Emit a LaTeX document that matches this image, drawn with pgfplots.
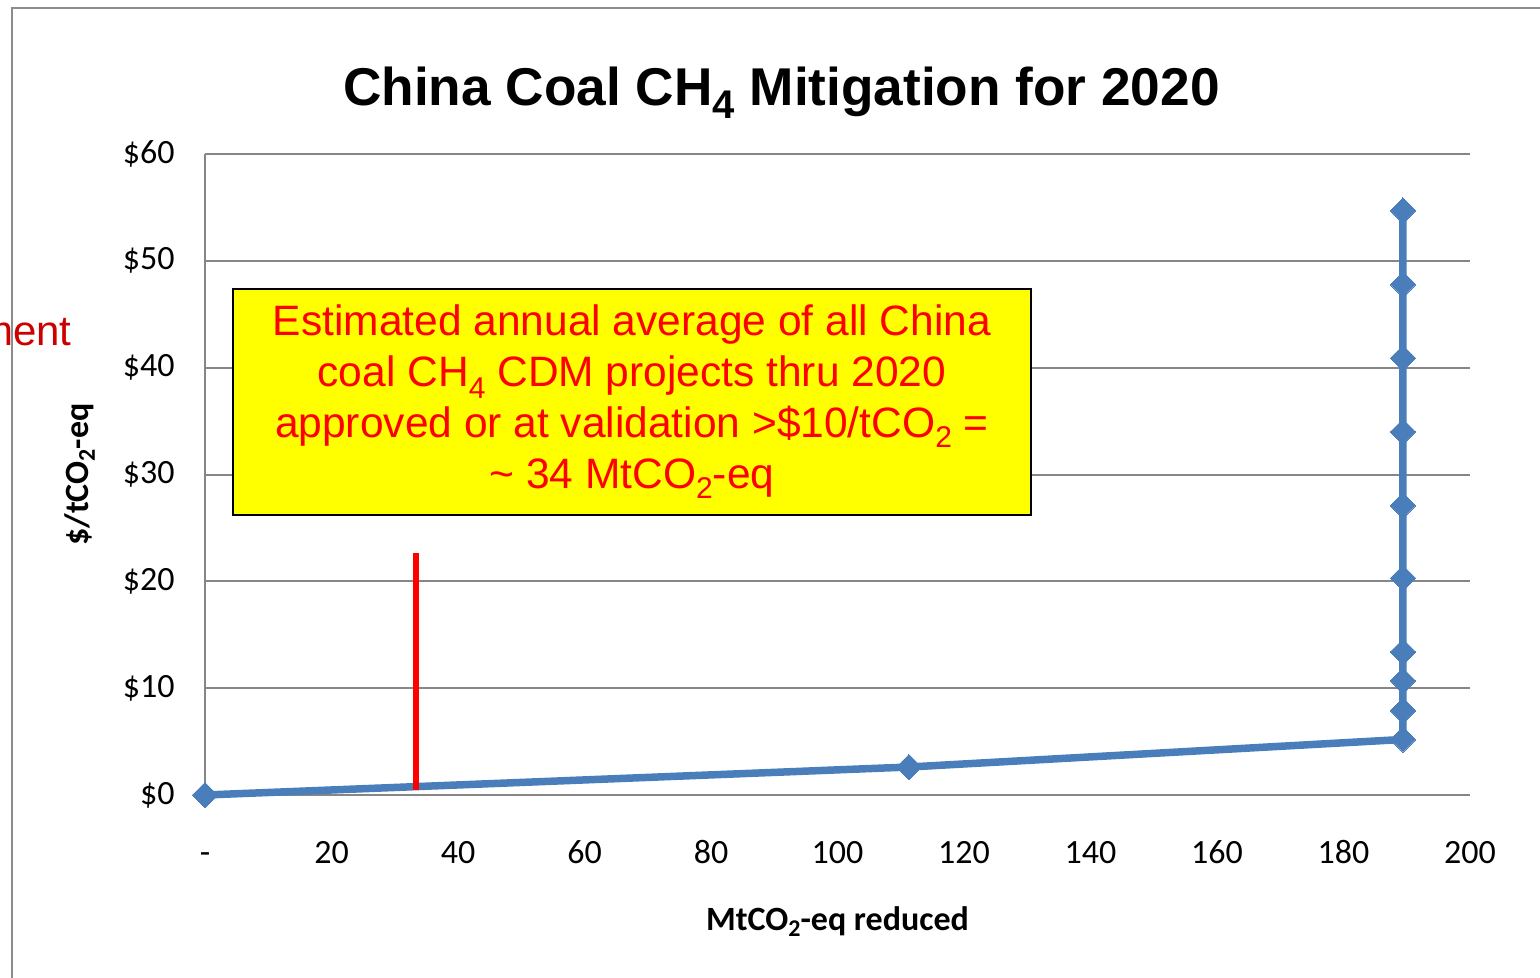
\documentclass[border=0pt]{standalone}
\usepackage{pgfplots}
\pgfplotsset{compat=1.18}
\usepackage{fontspec}
\setmainfont{Carlito}
\newfontfamily\arial{Liberation Sans}
\definecolor{seriesblue}{RGB}{74,126,187}
\definecolor{gridgray}{RGB}{134,134,134}
\definecolor{framegray}{RGB}{140,140,140}
\definecolor{notered}{RGB}{255,0,0}
\definecolor{marginred}{RGB}{204,0,0}
\definecolor{noteyellow}{RGB}{255,255,0}
% subscript: #1 size, #2 drop below the baseline, #3 text
\newcommand{\sub}[3]{\raisebox{-#2}{\fontsize{#1}{#1}\selectfont#3}}

\begin{document}
\begin{tikzpicture}
\useasboundingbox (0,0) rectangle (770bp,-489bp);
% slide frame
\draw[framegray, line width=0.8bp] (6bp,-560bp) -- (6bp,-4bp) -- (820bp,-4bp);
% text running in from the left of the slide
\node[anchor=base east, inner sep=0pt, text=marginred,
      font=\arial\fontsize{21bp}{25bp}\selectfont] at (36bp,-172.5bp) {ment};
\begin{axis}[
  at={(102.5bp,-397.5bp)}, anchor=south west,
  width=632.5bp, height=320.5bp, scale only axis,
  xmin=0, xmax=200, ymin=0, ymax=60,
  clip=false,
  axis x line*=bottom, axis y line*=left,
  axis line style={gridgray, line width=1bp, -},
  major tick length=0pt,
  ymajorgrids,
  major grid style={gridgray, line width=1bp},
  xtick={0,20,...,200},
  xticklabels={-,20,40,60,80,100,120,140,160,180,200},
  ytick={0,10,...,60},
  /pgf/number format/assume math mode=true,
  yticklabel={\$\pgfmathprintnumber{\tick}},
  ticklabel style={font=\fontsize{17bp}{20bp}\selectfont, inner sep=0pt},
  xticklabel style={anchor=base, yshift=-34bp},
  yticklabel style={anchor=east, xshift=-15bp},
  title={China Coal CH\sub{20bp}{6.5bp}{4} Mitigation for 2020},
  title style={at={(0.4557,1.0749)}, anchor=base, inner sep=0pt, yshift=-6pt,
               font=\arial\bfseries\fontsize{26.6bp}{30bp}\selectfont},
  xlabel={MtCO\sub{12bp}{3bp}{2}-eq reduced},
  xlabel style={at={(axis description cs:0.5,-0.2106)}, anchor=base, inner sep=0pt,
                font=\bfseries\fontsize{17bp}{20bp}\selectfont},
  ylabel={\$/tCO\sub{12bp}{3bp}{2}-eq},
  ylabel style={at={(axis description cs:-0.0988,0.5)}, anchor=center, rotate=0, inner sep=0pt,
                font=\bfseries\fontsize{17bp}{20bp}\selectfont},
]
% marginal abatement cost curve
\addplot[seriesblue, line width=3.75bp, line join=round,
         mark=square*, mark size=4.5bp,
         mark options={rotate=45, fill=seriesblue, draw=seriesblue, line width=0pt}]
  coordinates {
    (0,0) (111.3,2.62) (189.4,5.2) (189.4,7.9) (189.4,10.7) (189.4,13.4)
    (189.4,20.3) (189.4,27.1) (189.4,34.0) (189.4,40.9) (189.4,47.8) (189.4,54.7)
  };
% CDM project volume marker
\addplot[notered, line width=3bp] coordinates {(33.4,0.45) (33.4,22.65)};
\node[fill=noteyellow, draw=black, line width=0.75bp,
      minimum width=399bp, minimum height=113bp, inner sep=0pt,
      align=center, text=notered,
      font=\arial\fontsize{21.25bp}{25.5bp}\selectfont]
  at (rel axis cs:0.3375,0.613)
  {Estimated annual average of all China\\
   coal CH\sub{15bp}{6bp}{4} CDM projects thru 2020\\
   approved or at validation >\$10/tCO\sub{15bp}{5bp}{2} =\\
   \textasciitilde{} 34 MtCO\sub{15bp}{5bp}{2}-eq};
\end{axis}
\end{tikzpicture}
\end{document}
